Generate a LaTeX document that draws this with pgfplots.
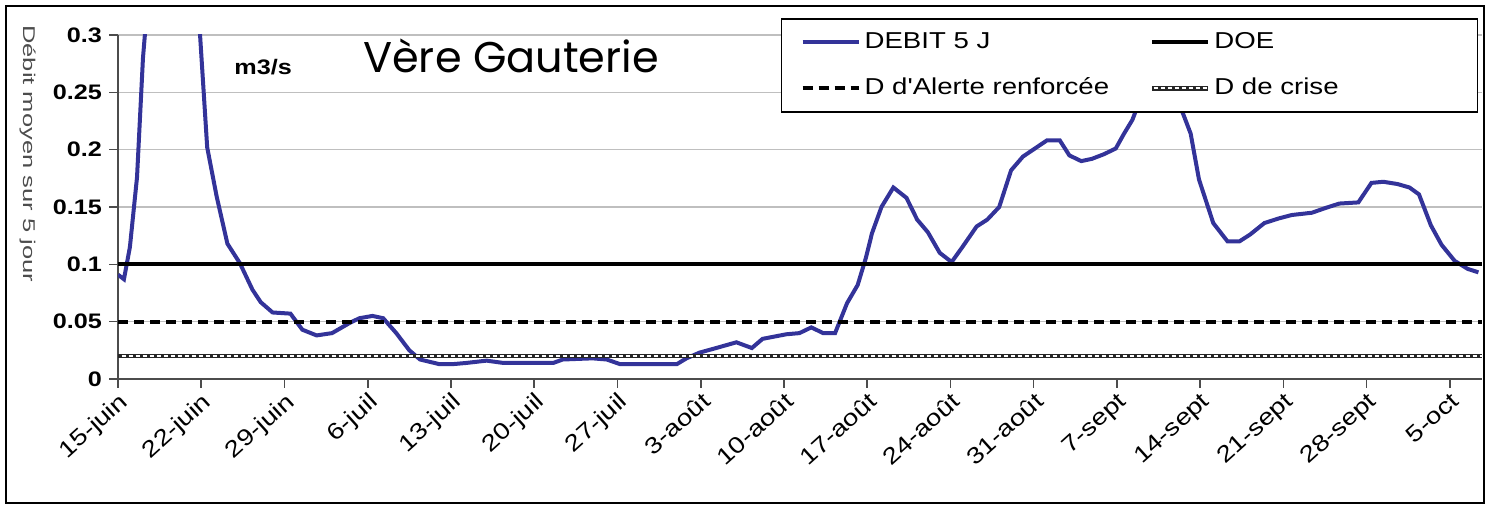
\documentclass[border=0pt]{standalone}
\usepackage{pgfplots}
\pgfplotsset{compat=1.18}
\usepackage{fontspec}
\setmainfont{Liberation Sans}
\newfontfamily\arialw{Liberation Sans}[FakeStretch=1.2]
\newfontfamily\ylabf{Liberation Sans}[FakeStretch=1.5]
\newfontfamily\titlef{Poppins}
\definecolor{debit}{RGB}{51,51,153}

\begin{document}
\begin{tikzpicture}
\useasboundingbox (0,0) rectangle (743pt,253pt);
\draw[line width=1pt] (3pt,1.5pt) rectangle (742pt,250pt);
\begin{axis}[
  at={(59pt,63.5pt)}, anchor=south west,
  scale only axis, width=682pt, height=172pt,
  xmin=0, xmax=114.7, ymin=0, ymax=0.3,
  axis x line=bottom, axis y line=left,
  axis line style={-, black!70, line width=0.8pt},
  xtick={0,7,...,112},
  xticklabels={15-juin,22-juin,29-juin,6-juil,13-juil,20-juil,27-juil,3-août,10-août,17-août,24-août,31-août,7-sept,14-sept,21-sept,28-sept,5-oct},
  ytick={0,0.05,0.1,0.15,0.2,0.25,0.3},
  yticklabels={0,0.05,0.1,0.15,0.2,0.25,0.3},
  tick align=outside, major tick length=4.5pt,
  tick style={black!70, line width=0.8pt},
  ymajorgrids, grid style={black!25, line width=0.6pt},
  yticklabel style={font=\arialw\bfseries\fontsize{10.5}{12}\selectfont},
  xticklabel style={font=\arialw\fontsize{11.5}{13}\selectfont, rotate=42, anchor=north east, inner sep=1pt},
  legend columns=2,
  legend style={at={(0.486,1.049)}, anchor=north west, draw=black, line width=0.7pt, fill=white,
    inner xsep=9.5pt, inner ysep=5.75pt, row sep=11pt, column sep=2pt,
    /tikz/every even column/.append style={column sep=2.5pt},
    font=\arialw\fontsize{11.5}{13}\selectfont,
    nodes={inner sep=0pt, text height=9pt, text depth=3pt, anchor=west}},
  legend image code/.code={\draw[#1] (0pt,0pt) -- (28pt,0pt);},
]
\addplot[debit, line width=2pt] coordinates {
(0,0.091) (0.5,0.087) (1,0.115) (1.6,0.176) (2.1,0.28) (2.5,0.33) (3,0.42) (4.5,0.55) (6,0.42)
(6.9,0.30) (7.5,0.202) (8.3,0.159) (9.2,0.118) (10.25,0.101) (11.3,0.078) (12,0.067) (13,0.058)
(14.5,0.057) (15.5,0.043) (16.7,0.038) (18,0.040) (19.5,0.049) (20.3,0.053) (21.4,0.055)
(22.3,0.053) (23.4,0.040) (24.5,0.025) (25.4,0.017) (27,0.013) (28.2,0.013) (29.3,0.014)
(31,0.016) (32.4,0.014) (36.6,0.014) (37.4,0.017) (39.9,0.018) (41.1,0.017) (42.2,0.013)
(47,0.013) (47.8,0.018) (48.9,0.023) (50.3,0.027) (52,0.032) (53.3,0.027) (54.2,0.035)
(56.2,0.039) (57.3,0.040) (58.3,0.045) (59.3,0.040) (60.3,0.040) (61.3,0.066) (62.2,0.082)
(62.9,0.106) (63.4,0.127) (64.2,0.150) (65.2,0.167) (66.3,0.158) (67.2,0.139) (68.1,0.128)
(69.1,0.110) (70.1,0.102) (71,0.115) (72.2,0.133) (73.1,0.139) (74.1,0.150) (75.1,0.182)
(76.1,0.194) (77.1,0.201) (78.1,0.208) (79.2,0.208) (80,0.195) (81,0.190) (81.9,0.192)
(82.9,0.196) (83.9,0.201) (84.6,0.214) (85.3,0.226) (86,0.245) (87.5,0.26) (89,0.245)
(89.5,0.233) (90.2,0.214) (90.9,0.174) (92.1,0.136) (93.3,0.120) (94.3,0.120) (95.2,0.126)
(96.4,0.136) (97.6,0.140) (98.7,0.143) (100.4,0.145) (101.5,0.149) (102.7,0.153) (104.3,0.154)
(105.4,0.171) (106.4,0.172) (107.6,0.170) (108.6,0.167) (109.4,0.161) (110.4,0.134)
(111.3,0.117) (112.4,0.103) (113.5,0.096) (114.4,0.093)
};
\addlegendentry{\makebox[140pt][l]{DEBIT 5 J}}
\addplot[black, line width=2pt] coordinates {(0,0.1) (114.7,0.1)};
\addlegendentry{\makebox[122pt][l]{DOE}}
\addplot[black, line width=2pt, dash pattern=on 5pt off 3pt] coordinates {(0,0.05) (114.7,0.05)};
\addlegendentry{\makebox[140pt][l]{D d'Alerte renforcée}}
\addplot[black!85, line width=2.4pt,
  legend image code/.code={\draw[black!85, line width=2.4pt] (0pt,0pt) -- (28pt,0pt);
    \draw[white, line width=1pt, dash pattern=on 2pt off 1.5pt] (0.75pt,0pt) -- (28pt,0pt);}]
  coordinates {(0,0.02) (114.7,0.02)};
\addlegendentry{\makebox[122pt][l]{D de crise}}
\addplot[white, line width=1pt, dash pattern=on 2pt off 1.5pt, forget plot] coordinates {(0.3,0.02) (114.7,0.02)};
\end{axis}
\node[anchor=base, font=\titlef\fontsize{21.5}{25}\selectfont] at (255.5pt,216.5pt) {Vère Gauterie};
\node[anchor=base west, inner sep=0pt, font=\arialw\bfseries\fontsize{10.5}{12}\selectfont] at (117pt,215.5pt) {m3/s};
\node[anchor=base west, inner sep=0pt, rotate=-90, text=black!70, font=\ylabf\fontsize{8.5}{10}\selectfont] at (11.5pt,240.5pt) {Débit moyen sur 5 jour};
\end{tikzpicture}
\end{document}
